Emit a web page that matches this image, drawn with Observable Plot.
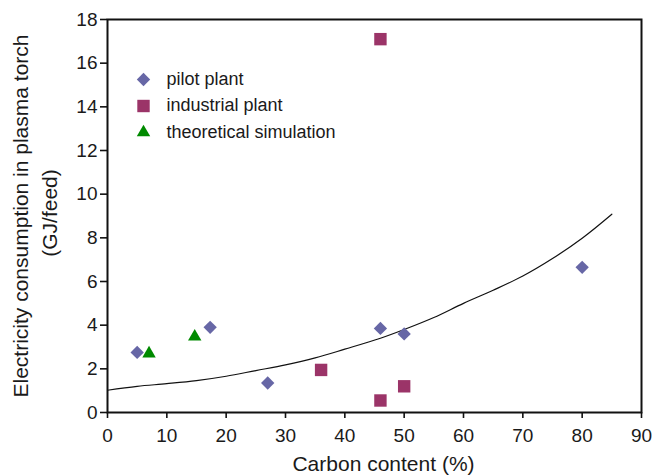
<!DOCTYPE html>
<html>
<head>
<meta charset="utf-8">
<script src="https://cdn.jsdelivr.net/npm/d3@7"></script>
<script src="https://cdn.jsdelivr.net/npm/@observablehq/plot@0.6"></script>
<style>
  body { margin: 0; background: #fff; }
  #chart svg { display: block; }
</style>
</head>
<body>
<div id="chart"></div>
<script>
// Series data
const pilotX = [5, 17.3, 27, 46, 50, 80];
const pilotY = [2.75, 3.9, 1.35, 3.85, 3.6, 6.65];
const industrialX = [36, 46, 50, 46];
const industrialY = [1.95, 0.55, 1.2, 17.1];
const theoryX = [7, 14.7];
const theoryY = [2.7, 3.47];
// Fitted curve
const curveX = [0, 5, 10, 15, 20, 25, 30, 35, 40, 46, 50, 55, 60, 65, 70, 75, 80, 85];
const curveY = [1.02, 1.2, 1.32, 1.46, 1.66, 1.92, 2.18, 2.5, 2.9, 3.4, 3.8, 4.35, 5.0, 5.6, 6.25, 7.05, 7.98, 9.08];
// Axes
const xTicks = [0, 10, 20, 30, 40, 50, 60, 70, 80, 90];
const yTicks = [0, 2, 4, 6, 8, 10, 12, 14, 16, 18];
const seriesNames = ["pilot plant", "industrial plant", "theoretical simulation"];
const xTitle = "Carbon content (%)";
const yTitle1 = "Electricity consumption in plasma torch";
const yTitle2 = "(GJ/feed)";

const colors = ["#6767a6", "#9b3468", "#008a00"];
const symbols = ["diamond2", "square2", "triangle2"];
const radii = [6, 7.9, 6.4];

const zip = (xs, ys) => xs.map((x, i) => ({x, y: ys[i]}));
const series = [zip(pilotX, pilotY), zip(industrialX, industrialY), zip(theoryX, theoryY)];

const legendMarks = seriesNames.flatMap((name, i) => [
  Plot.dot([name], {frameAnchor: "top-left", dx: 36, dy: 60 + i * 26.5, symbol: symbols[i], r: radii[i], fill: colors[i]}),
  Plot.text([name], {frameAnchor: "top-left", dx: 59, dy: 59.5 + i * 26.5, text: d => d, textAnchor: "start", lineAnchor: "middle", fontSize: 18, fill: "#1a1a1a"})
]);

const plot = Plot.plot({
  width: 655,
  height: 475,
  marginLeft: 107,
  marginRight: 14,
  marginTop: 19,
  marginBottom: 63,
  style: {fontFamily: "'Liberation Sans', Arial, sans-serif", background: "#fff", color: "#1a1a1a"},
  x: {domain: [0, 90]},
  y: {domain: [0, 18]},
  marks: [
    Plot.axisX({ticks: xTicks, tickSize: 6, tickPadding: 10, fontSize: 19, label: null, strokeWidth: 1.6, stroke: "#111"}),
    Plot.axisY({ticks: yTicks, tickSize: 7, tickPadding: 3, fontSize: 19, label: null, strokeWidth: 1.6, stroke: "#111"}),
    Plot.frame({stroke: "#111", strokeWidth: 2}),
    Plot.line(zip(curveX, curveY), {x: "x", y: "y", curve: "catmull-rom", stroke: "#111", strokeWidth: 1.2}),
    ...series.map((s, i) => Plot.dot(s, {x: "x", y: "y", symbol: symbols[i], r: radii[i], fill: colors[i]})),
    ...legendMarks,
    Plot.text([xTitle], {frameAnchor: "bottom", dx: 9, dy: 52, text: d => d, fontSize: 21, textAnchor: "middle", lineAnchor: "middle", fill: "#1a1a1a"}),
    Plot.text([yTitle1], {frameAnchor: "left", dx: -86, text: d => d, rotate: -90, fontSize: 21, textAnchor: "middle", lineAnchor: "middle", fill: "#1a1a1a"}),
    Plot.text([yTitle2], {frameAnchor: "left", dx: -57, dy: -3, text: d => d, rotate: -90, fontSize: 21, textAnchor: "middle", lineAnchor: "middle", fill: "#1a1a1a"})
  ]
});
document.getElementById("chart").append(plot);
</script>
</body>
</html>
